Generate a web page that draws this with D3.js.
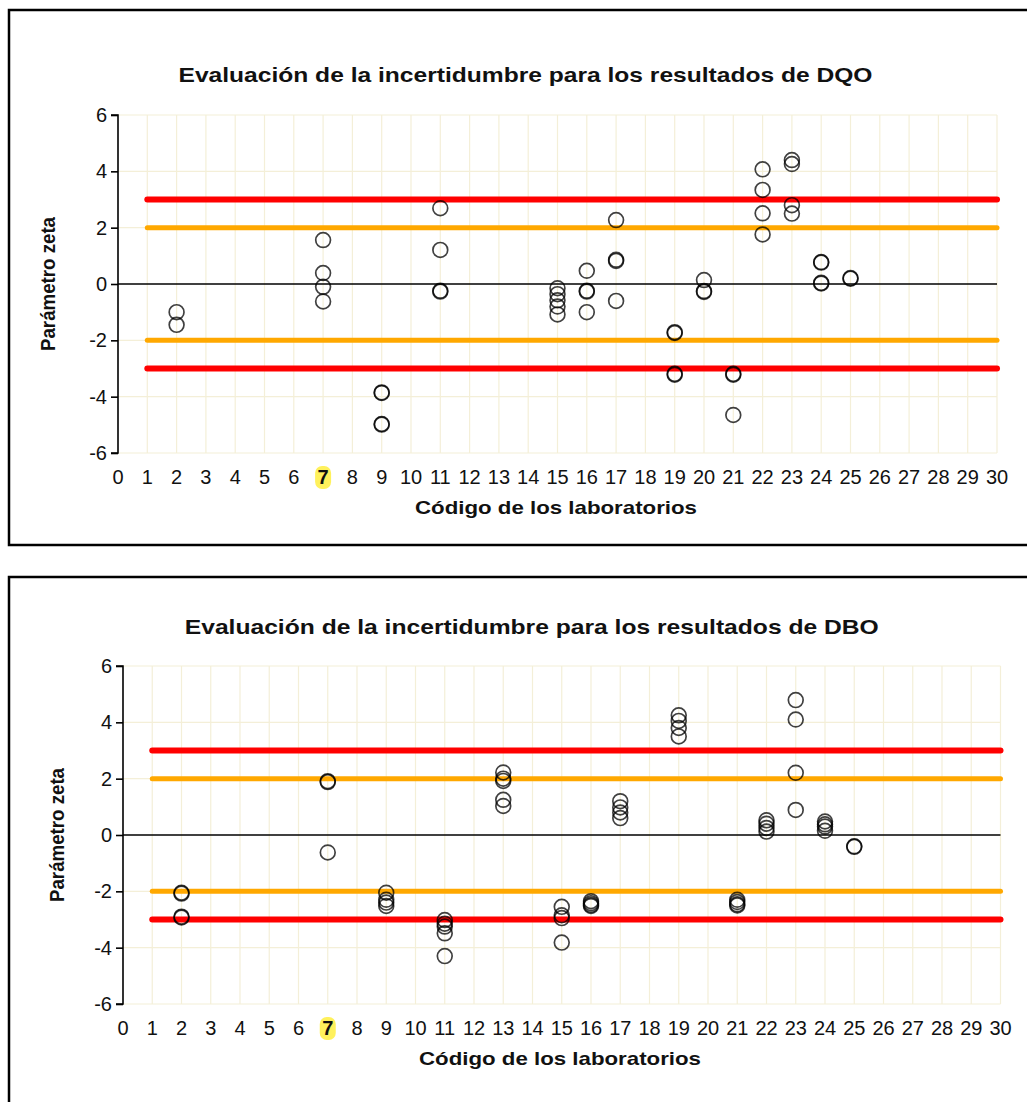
<!DOCTYPE html>
<html>
<head>
<meta charset="utf-8">
<script src="https://cdn.jsdelivr.net/npm/d3@7"></script>
<style>
  html, body { margin: 0; padding: 0; background: #fff; }
  svg { display: block; font-family: "Liberation Sans", Arial, sans-serif; }
</style>
</head>
<body>
<svg id="chart" width="1027" height="1102"></svg>
<script>
// Laboratory codes on the x axis (0..30); lab 7 is highlighted
const xTicks = d3.range(0, 31);
const highlightedLab = 7;
const yTicks = [-6, -4, -2, 0, 2, 4, 6];

// Acceptance limits for the zeta score
const warnLimit = 2;
const actionLimit = 3;

// DQO: one entry per reported result (lab code, zeta score)
const dqoLab = [
  2, 2,
  7, 7, 7, 7,
  9, 9, 9, 9,
  11, 11, 11, 11,
  15, 15, 15, 15, 15,
  16, 16, 16, 16,
  17, 17, 17, 17,
  19, 19, 19, 19,
  20, 20, 20,
  21, 21, 21,
  22, 22, 22, 22,
  23, 23, 23, 23,
  24, 24, 24, 24,
  25, 25
];
const dqoZeta = [
  -1.0, -1.45,
  1.56, 0.39, -0.1, -0.62,
  -3.85, -3.87, -4.97, -4.99,
  2.69, 1.21, -0.24, -0.27,
  -0.15, -0.36, -0.58, -0.8, -1.08,
  0.47, -0.24, -0.27, -1.0,
  2.27, 0.86, 0.82, -0.6,
  -1.71, -1.74, -3.19, -3.22,
  0.14, -0.25, -0.28,
  -3.19, -3.22, -4.65,
  4.07, 3.34, 2.51, 1.76,
  4.4, 4.26, 2.8, 2.5,
  0.76, 0.78, 0.02, 0.04,
  0.19, 0.21
];

// DBO: one entry per reported result (lab code, zeta score)
const dboLab = [
  2, 2, 2, 2,
  7, 7, 7,
  9, 9, 9, 9,
  11, 11, 11, 11, 11,
  13, 13, 13, 13, 13,
  15, 15, 15, 15,
  16, 16, 16, 16,
  17, 17, 17, 17,
  19, 19, 19, 19,
  21, 21, 21, 21,
  22, 22, 22, 22,
  23, 23, 23, 23,
  24, 24, 24, 24,
  25, 25
];
const dboZeta = [
  -2.05, -2.08, -2.9, -2.93,
  1.88, 1.91, -0.62,
  -2.05, -2.3, -2.4, -2.52,
  -3.02, -3.15, -3.25, -3.49, -4.3,
  2.22, 2.0, 1.92, 1.25, 1.03,
  -2.55, -2.85, -2.95, -3.82,
  -2.35, -2.42, -2.48, -2.52,
  1.2, 0.98, 0.8, 0.6,
  4.25, 4.05, 3.8, 3.5,
  -2.3, -2.38, -2.46, -2.5,
  0.52, 0.4, 0.25, 0.12,
  4.79, 4.1, 2.21, 0.89,
  0.48, 0.38, 0.3, 0.15,
  -0.4, -0.42
];

const svg = d3.select("#chart");

function drawPanel(cfg) {
  const { box, plot, title, labs, zetas } = cfg;

  // Frame around the panel
  svg.append("rect")
    .attr("x", box.x).attr("y", box.y)
    .attr("width", box.w).attr("height", box.h)
    .attr("fill", "#fff").attr("stroke", "#000").attr("stroke-width", 2.5);

  const x = d3.scaleLinear().domain([0, 30]).range([plot.left, plot.right]);
  const y = d3.scaleLinear().domain([-6, 6]).range([plot.bottom, plot.top]);

  const g = svg.append("g");

  // Light grid
  const grid = g.append("g").attr("stroke", "#f4efd8").attr("stroke-width", 1.2);
  grid.selectAll("line.v").data(xTicks.filter(d => d > 0)).join("line")
    .attr("x1", d => x(d)).attr("x2", d => x(d))
    .attr("y1", y(6)).attr("y2", y(-6));
  grid.selectAll("line.h").data(yTicks.filter(d => d !== 0)).join("line")
    .attr("x1", x(0)).attr("x2", x(30))
    .attr("y1", d => y(d)).attr("y2", d => y(d));

  // Zero line
  g.append("line")
    .attr("x1", x(0)).attr("x2", x(30))
    .attr("y1", y(0)).attr("y2", y(0))
    .attr("stroke", "#000").attr("stroke-width", 1.3);

  // Warning (±2) and action (±3) limits
  const limits = [
    { v: warnLimit, c: "#ffa800", w: 5 },
    { v: -warnLimit, c: "#ffa800", w: 5 },
    { v: actionLimit, c: "#ff0000", w: 6 },
    { v: -actionLimit, c: "#ff0000", w: 6 }
  ];
  g.selectAll("line.limit").data(limits).join("line")
    .attr("x1", x(1)).attr("x2", x(30))
    .attr("y1", d => y(d.v)).attr("y2", d => y(d.v))
    .attr("stroke", d => d.c).attr("stroke-width", d => d.w)
    .attr("stroke-linecap", "round");

  // Y axis
  const yAxis = d3.axisLeft(y).tickValues(yTicks).tickSize(7).tickPadding(4)
    .tickFormat(d3.format("d"));
  const ya = g.append("g").attr("transform", `translate(${x(0)},0)`).call(yAxis);
  ya.select(".domain").attr("stroke", "#000").attr("stroke-width", 1.6)
    .attr("d", `M-7,${y(6)}H0V${y(-6)}H-7`);
  ya.selectAll(".tick line").attr("stroke", "#000").attr("stroke-width", 1.6);
  ya.selectAll(".tick text")
    .attr("font-size", 20).attr("fill", "#111")
    .attr("font-family", "Liberation Sans, Arial, sans-serif")
    .text(d => d < 0 ? "-" + Math.abs(d) : d);

  // X tick labels (no axis line), with the highlighted lab
  const xl = g.append("g");
  xl.selectAll("rect").data(xTicks.filter(d => d === highlightedLab)).join("rect")
    .attr("x", d => x(d) - 8).attr("y", plot.bottom + 13)
    .attr("width", 16).attr("height", 23).attr("rx", 7)
    .attr("fill", "#fff15c");
  xl.selectAll("text").data(xTicks).join("text")
    .attr("x", d => x(d)).attr("y", plot.bottom + 31)
    .attr("text-anchor", "middle")
    .attr("font-size", 20)
    .attr("font-weight", d => d === highlightedLab ? "bold" : "normal")
    .attr("fill", "#111")
    .text(d => d);

  // Data points
  const pts = labs.map((l, i) => ({ lab: l, z: zetas[i] }));
  g.append("g").selectAll("circle").data(pts).join("circle")
    .attr("cx", d => x(d.lab)).attr("cy", d => y(d.z))
    .attr("r", 7.4)
    .attr("fill", "none")
    .attr("stroke", "#000").attr("stroke-opacity", 0.75)
    .attr("stroke-width", 1.7);

  // Titles
  svg.append("text")
    .attr("x", (plot.left + plot.right) / 2 + title.dx).attr("y", title.y)
    .attr("text-anchor", "middle")
    .attr("font-size", 21).attr("font-weight", "bold").attr("fill", "#111")
    .attr("textLength", 694).attr("lengthAdjust", "spacingAndGlyphs")
    .text(title.text);

  svg.append("text")
    .attr("x", 556 + cfg.xTitleDx).attr("y", plot.bottom + 61)
    .attr("text-anchor", "middle")
    .attr("font-size", 19).attr("font-weight", "bold").attr("fill", "#111")
    .attr("textLength", 282).attr("lengthAdjust", "spacingAndGlyphs")
    .text("Código de los laboratorios");

  const yc = (plot.top + plot.bottom) / 2;
  svg.append("text")
    .attr("transform", `translate(${cfg.yTitleX},${yc}) rotate(-90)`)
    .attr("text-anchor", "middle")
    .attr("font-size", 20).attr("font-weight", "bold").attr("fill", "#111")
    .attr("textLength", 134).attr("lengthAdjust", "spacingAndGlyphs")
    .text("Parámetro zeta");
}

drawPanel({
  box: { x: 9, y: 10, w: 1040, h: 535 },
  plot: { left: 118, right: 997, top: 115, bottom: 453 },
  title: { text: "Evaluación de la incertidumbre para los resultados de DQO", y: 82, dx: -32 },
  xTitleDx: 0,
  yTitleX: 55,
  labs: dqoLab, zetas: dqoZeta
});

drawPanel({
  box: { x: 9, y: 577, w: 1040, h: 560 },
  plot: { left: 123, right: 1000.5, top: 666, bottom: 1004 },
  title: { text: "Evaluación de la incertidumbre para los resultados de DBO", y: 634, dx: -30 },
  xTitleDx: 4,
  yTitleX: 64,
  labs: dboLab, zetas: dboZeta
});
</script>
</body>
</html>
